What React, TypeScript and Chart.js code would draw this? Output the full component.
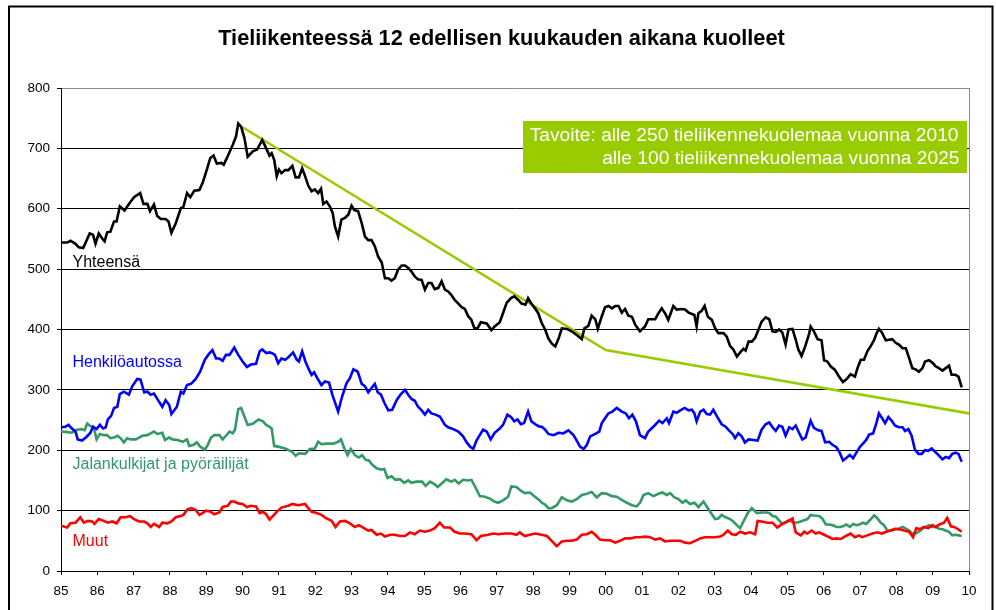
import React, { useEffect, useRef } from "react";
import { Chart, registerables } from "chart.js";

Chart.register(...registerables);

const FONT = "'Liberation Sans', Arial, Helvetica, sans-serif";

const chartTitle = "Tieliikenteessä 12 edellisen kuukauden aikana kuolleet";
const targetLines = [
  "Tavoite: alle 250 tieliikennekuolemaa vuonna 2010",
  "alle 100 tieliikennekuolemaa vuonna 2025",
];
const seriesNames = ["Yhteensä", "Henkilöautossa", "Jalankulkijat ja pyöräilijät", "Muut"];
const seriesColors = ["#000000", "#0000ff", "#339966", "#ff0000"];
const targetColor = "#99cc00";

const xMin = 1985;
const xMax = 2010;
const yMin = 0;
const yMax = 800;
const yStep = 100;

// [year, deaths during previous 12 months]
const yhteensa: [number, number][] = [
  [1985.0, 544], [1985.17, 544], [1985.26, 547], [1985.4, 542], [1985.49, 536], [1985.61, 535], [1985.67, 543],
  [1985.79, 559], [1985.88, 557], [1985.95, 542], [1986.04, 559], [1986.13, 551], [1986.2, 546], [1986.27, 561],
  [1986.36, 562], [1986.46, 579], [1986.53, 579], [1986.62, 604], [1986.75, 597], [1986.87, 608], [1987.01, 619],
  [1987.18, 626], [1987.27, 608], [1987.38, 608], [1987.45, 596], [1987.56, 607], [1987.65, 588], [1987.75, 583],
  [1987.88, 583], [1987.96, 579], [1988.04, 560], [1988.16, 576], [1988.3, 601], [1988.37, 603], [1988.47, 626],
  [1988.56, 619], [1988.67, 630], [1988.81, 631], [1988.9, 643], [1988.99, 660], [1989.11, 684], [1989.2, 688],
  [1989.29, 675], [1989.41, 676], [1989.48, 673], [1989.59, 687], [1989.73, 706], [1989.82, 720], [1989.88, 741],
  [1989.96, 736], [1990.05, 717], [1990.14, 686], [1990.28, 695], [1990.4, 698], [1990.54, 714], [1990.65, 700],
  [1990.74, 688], [1990.8, 692], [1990.87, 681], [1990.94, 654], [1991.0, 665], [1991.07, 659], [1991.17, 664],
  [1991.26, 664], [1991.37, 671], [1991.46, 652], [1991.55, 652], [1991.64, 667], [1991.72, 654], [1991.81, 638],
  [1991.9, 629], [1991.99, 632], [1992.08, 626], [1992.16, 633], [1992.22, 608], [1992.31, 612], [1992.4, 604],
  [1992.48, 593], [1992.54, 571], [1992.63, 554], [1992.72, 582], [1992.82, 585], [1992.91, 590], [1993.0, 605],
  [1993.07, 598], [1993.18, 596], [1993.28, 576], [1993.37, 554], [1993.46, 548], [1993.55, 548], [1993.64, 538],
  [1993.73, 521], [1993.83, 511], [1993.92, 485], [1994.01, 485], [1994.1, 481], [1994.19, 485], [1994.28, 499],
  [1994.38, 506], [1994.47, 506], [1994.56, 502], [1994.65, 496], [1994.74, 488], [1994.83, 483], [1994.93, 482],
  [1995.02, 466], [1995.11, 477], [1995.2, 477], [1995.29, 467], [1995.39, 469], [1995.48, 480], [1995.57, 466],
  [1995.66, 463], [1995.75, 457], [1995.84, 449], [1995.94, 443], [1996.03, 437], [1996.12, 434], [1996.21, 422],
  [1996.3, 416], [1996.38, 402], [1996.47, 402], [1996.56, 412], [1996.72, 410], [1996.85, 399], [1996.94, 405],
  [1997.08, 412], [1997.17, 427], [1997.27, 444], [1997.39, 452], [1997.48, 455], [1997.59, 449], [1997.68, 443],
  [1997.79, 441], [1997.86, 452], [1997.94, 444], [1998.05, 435], [1998.14, 427], [1998.24, 410], [1998.33, 400],
  [1998.42, 385], [1998.51, 377], [1998.61, 372], [1998.7, 385], [1998.79, 402], [1998.93, 401], [1999.06, 397],
  [1999.2, 391], [1999.34, 384], [1999.41, 402], [1999.52, 406], [1999.61, 423], [1999.71, 417], [1999.78, 401],
  [1999.89, 422], [1999.98, 437], [2000.07, 439], [2000.17, 435], [2000.26, 439], [2000.35, 439], [2000.44, 428],
  [2000.53, 434], [2000.62, 423], [2000.72, 421], [2000.81, 408], [2000.94, 397], [2001.08, 405], [2001.17, 417],
  [2001.36, 417], [2001.45, 427], [2001.54, 435], [2001.63, 427], [2001.72, 416], [2001.86, 439], [2001.95, 433],
  [2002.09, 434], [2002.18, 433], [2002.28, 428], [2002.44, 424], [2002.5, 405], [2002.55, 427], [2002.64, 431],
  [2002.72, 439], [2002.81, 421], [2002.92, 416], [2003.01, 402], [2003.1, 394], [2003.24, 394], [2003.33, 388],
  [2003.42, 373], [2003.51, 367], [2003.61, 355], [2003.7, 362], [2003.79, 368], [2003.85, 365], [2003.93, 380],
  [2004.02, 380], [2004.11, 386], [2004.2, 399], [2004.29, 413], [2004.4, 420], [2004.5, 417], [2004.59, 397],
  [2004.68, 396], [2004.77, 400], [2004.86, 395], [2004.95, 375], [2005.03, 400], [2005.14, 401], [2005.23, 383],
  [2005.3, 367], [2005.39, 356], [2005.49, 372], [2005.6, 393], [2005.64, 405], [2005.73, 397], [2005.83, 384],
  [2005.94, 382], [2006.01, 349], [2006.1, 347], [2006.19, 339], [2006.31, 333], [2006.42, 322], [2006.53, 313],
  [2006.65, 319], [2006.74, 326], [2006.86, 322], [2006.93, 336], [2007.02, 350], [2007.11, 350], [2007.2, 364],
  [2007.29, 372], [2007.39, 383], [2007.45, 393], [2007.52, 401], [2007.6, 395], [2007.71, 382], [2007.8, 383],
  [2007.89, 384], [2007.98, 378], [2008.07, 375], [2008.17, 369], [2008.26, 369], [2008.35, 353], [2008.44, 336],
  [2008.53, 334], [2008.62, 330], [2008.72, 336], [2008.79, 347], [2008.9, 349], [2009.01, 344], [2009.08, 339],
  [2009.17, 336], [2009.27, 332], [2009.36, 336], [2009.45, 340], [2009.52, 325], [2009.63, 325], [2009.71, 322],
  [2009.8, 304],
];

const henkiloautossa: [number, number][] = [
  [1985.0, 238], [1985.12, 239], [1985.21, 242], [1985.3, 236], [1985.4, 231], [1985.46, 218], [1985.58, 216],
  [1985.7, 222], [1985.81, 229], [1985.88, 239], [1985.98, 235], [1986.07, 242], [1986.16, 236], [1986.23, 238],
  [1986.29, 251], [1986.38, 257], [1986.46, 270], [1986.55, 272], [1986.62, 293], [1986.73, 297], [1986.87, 292],
  [1986.96, 306], [1987.1, 318], [1987.19, 317], [1987.29, 296], [1987.38, 297], [1987.47, 292], [1987.56, 294],
  [1987.65, 285], [1987.79, 272], [1987.88, 283], [1987.98, 275], [1988.04, 260], [1988.19, 272], [1988.3, 297],
  [1988.37, 294], [1988.47, 308], [1988.58, 310], [1988.71, 318], [1988.83, 330], [1988.96, 350], [1989.08, 360],
  [1989.17, 366], [1989.27, 352], [1989.36, 352], [1989.45, 348], [1989.54, 358], [1989.64, 358], [1989.77, 370],
  [1989.88, 358], [1990.0, 347], [1990.12, 338], [1990.23, 342], [1990.37, 343], [1990.47, 364], [1990.54, 367],
  [1990.65, 361], [1990.74, 362], [1990.8, 361], [1990.89, 358], [1990.98, 344], [1991.07, 352], [1991.17, 350],
  [1991.26, 354], [1991.39, 362], [1991.49, 350], [1991.55, 347], [1991.64, 364], [1991.73, 347], [1991.83, 333],
  [1991.9, 325], [1991.97, 329], [1992.06, 319], [1992.17, 308], [1992.27, 314], [1992.38, 312], [1992.47, 292],
  [1992.63, 264], [1992.74, 289], [1992.86, 311], [1992.95, 319], [1993.05, 334], [1993.17, 330], [1993.28, 310],
  [1993.37, 306], [1993.46, 296], [1993.55, 303], [1993.64, 310], [1993.72, 296], [1993.81, 292], [1993.9, 279],
  [1994.01, 266], [1994.12, 267], [1994.24, 283], [1994.36, 293], [1994.47, 300], [1994.56, 292], [1994.65, 285],
  [1994.74, 282], [1994.83, 272], [1994.93, 266], [1995.02, 259], [1995.11, 267], [1995.2, 261], [1995.31, 259],
  [1995.43, 256], [1995.57, 242], [1995.66, 238], [1995.8, 235], [1995.94, 231], [1996.07, 223], [1996.17, 213],
  [1996.26, 206], [1996.35, 202], [1996.44, 216], [1996.53, 225], [1996.62, 234], [1996.72, 231], [1996.83, 218],
  [1996.94, 229], [1997.08, 236], [1997.17, 242], [1997.29, 259], [1997.39, 255], [1997.48, 248], [1997.57, 251],
  [1997.66, 243], [1997.75, 245], [1997.86, 264], [1997.95, 248], [1998.06, 243], [1998.18, 239], [1998.24, 239],
  [1998.33, 234], [1998.42, 227], [1998.56, 225], [1998.7, 229], [1998.83, 228], [1998.97, 233], [1999.11, 225],
  [1999.2, 216], [1999.29, 206], [1999.39, 202], [1999.48, 209], [1999.57, 223], [1999.71, 227], [1999.82, 231],
  [1999.89, 245], [1999.98, 253], [2000.07, 261], [2000.18, 264], [2000.3, 270], [2000.44, 264], [2000.55, 261],
  [2000.64, 253], [2000.73, 259], [2000.83, 248], [2000.94, 225], [2001.08, 220], [2001.17, 231], [2001.31, 239],
  [2001.47, 249], [2001.56, 245], [2001.68, 253], [2001.74, 245], [2001.86, 264], [2001.95, 262], [2002.05, 266],
  [2002.17, 270], [2002.28, 266], [2002.37, 267], [2002.44, 261], [2002.5, 248], [2002.6, 264], [2002.69, 267],
  [2002.78, 260], [2002.87, 259], [2002.96, 267], [2003.06, 256], [2003.19, 243], [2003.3, 239], [2003.39, 233],
  [2003.49, 227], [2003.56, 220], [2003.65, 228], [2003.74, 223], [2003.83, 213], [2003.93, 218], [2004.06, 217],
  [2004.18, 216], [2004.29, 234], [2004.4, 243], [2004.5, 246], [2004.59, 238], [2004.68, 232], [2004.77, 241],
  [2004.86, 239], [2004.95, 224], [2005.05, 238], [2005.14, 235], [2005.23, 241], [2005.32, 229], [2005.41, 218],
  [2005.5, 221], [2005.6, 241], [2005.64, 249], [2005.73, 237], [2005.85, 233], [2005.94, 232], [2006.04, 213],
  [2006.15, 214], [2006.24, 209], [2006.35, 205], [2006.44, 196], [2006.53, 183], [2006.62, 187], [2006.72, 192],
  [2006.81, 187], [2006.9, 196], [2006.99, 205], [2007.08, 211], [2007.17, 217], [2007.25, 226], [2007.36, 228],
  [2007.45, 245], [2007.52, 261], [2007.61, 253], [2007.69, 245], [2007.78, 255], [2007.87, 249], [2007.96, 241],
  [2008.07, 238], [2008.17, 238], [2008.24, 232], [2008.33, 235], [2008.42, 224], [2008.51, 201], [2008.61, 194],
  [2008.7, 194], [2008.79, 200], [2008.88, 199], [2008.97, 203], [2009.06, 198], [2009.16, 192], [2009.27, 185],
  [2009.36, 189], [2009.45, 187], [2009.54, 194], [2009.63, 196], [2009.71, 194], [2009.8, 181],
];

const jalankulkijat: [number, number][] = [
  [1985.0, 231], [1985.17, 230], [1985.3, 229], [1985.44, 234], [1985.58, 235], [1985.65, 233], [1985.72, 244],
  [1985.81, 240], [1985.9, 238], [1985.98, 218], [1986.07, 227], [1986.18, 225], [1986.27, 225], [1986.36, 220],
  [1986.46, 221], [1986.55, 224], [1986.64, 220], [1986.73, 213], [1986.82, 220], [1986.92, 218], [1987.06, 218],
  [1987.15, 221], [1987.24, 224], [1987.38, 225], [1987.47, 228], [1987.56, 231], [1987.65, 227], [1987.79, 229],
  [1987.86, 217], [1987.98, 221], [1988.07, 218], [1988.21, 217], [1988.35, 214], [1988.47, 218], [1988.53, 207],
  [1988.65, 209], [1988.74, 213], [1988.83, 206], [1988.96, 201], [1989.04, 209], [1989.13, 221], [1989.22, 225],
  [1989.36, 225], [1989.45, 218], [1989.54, 224], [1989.64, 231], [1989.73, 228], [1989.79, 234], [1989.88, 268],
  [1989.96, 270], [1990.05, 256], [1990.14, 242], [1990.28, 244], [1990.44, 251], [1990.56, 248], [1990.65, 242],
  [1990.74, 239], [1990.8, 236], [1990.87, 207], [1990.98, 206], [1991.17, 203], [1991.35, 198], [1991.46, 191],
  [1991.55, 195], [1991.72, 194], [1991.85, 202], [1991.99, 203], [1992.08, 214], [1992.17, 210], [1992.31, 211],
  [1992.5, 211], [1992.63, 214], [1992.71, 218], [1992.8, 203], [1992.89, 192], [1992.98, 202], [1993.09, 192],
  [1993.2, 188], [1993.29, 192], [1993.39, 184], [1993.48, 183], [1993.57, 176], [1993.69, 170], [1993.81, 168],
  [1993.9, 169], [1993.99, 154], [1994.1, 157], [1994.21, 151], [1994.33, 152], [1994.45, 146], [1994.56, 150],
  [1994.65, 146], [1994.79, 148], [1994.94, 148], [1995.04, 141], [1995.16, 148], [1995.28, 144], [1995.37, 139],
  [1995.48, 145], [1995.61, 152], [1995.75, 148], [1995.84, 151], [1995.95, 145], [1996.07, 151], [1996.21, 150],
  [1996.3, 151], [1996.39, 141], [1996.53, 124], [1996.67, 123], [1996.81, 120], [1996.93, 115], [1997.04, 113],
  [1997.17, 117], [1997.31, 123], [1997.4, 140], [1997.54, 139], [1997.66, 133], [1997.77, 129], [1997.91, 130],
  [1998.05, 123], [1998.18, 117], [1998.24, 113], [1998.33, 110], [1998.42, 104], [1998.51, 104], [1998.65, 109],
  [1998.79, 122], [1998.93, 117], [1999.06, 115], [1999.2, 119], [1999.34, 126], [1999.48, 128], [1999.61, 131],
  [1999.75, 122], [1999.89, 129], [2000.03, 128], [2000.17, 124], [2000.3, 123], [2000.44, 118], [2000.58, 113],
  [2000.72, 109], [2000.85, 107], [2000.94, 113], [2001.04, 126], [2001.17, 129], [2001.31, 124], [2001.45, 128],
  [2001.56, 130], [2001.68, 126], [2001.77, 129], [2001.89, 122], [2002.0, 119], [2002.11, 113], [2002.2, 117],
  [2002.32, 111], [2002.44, 113], [2002.55, 106], [2002.69, 115], [2002.81, 104], [2002.92, 94], [2003.01, 86],
  [2003.1, 87], [2003.19, 93], [2003.3, 89], [2003.42, 86], [2003.51, 82], [2003.61, 76], [2003.7, 71],
  [2003.79, 82], [2003.91, 96], [2004.02, 104], [2004.16, 96], [2004.29, 97], [2004.43, 97], [2004.5, 96],
  [2004.59, 91], [2004.68, 90], [2004.77, 84], [2004.86, 78], [2004.95, 81], [2005.05, 84], [2005.14, 81],
  [2005.23, 80], [2005.32, 81], [2005.46, 84], [2005.55, 86], [2005.64, 93], [2005.73, 92], [2005.87, 91],
  [2005.96, 87], [2006.06, 77], [2006.15, 77], [2006.24, 76], [2006.35, 73], [2006.44, 73], [2006.53, 74],
  [2006.62, 77], [2006.72, 73], [2006.81, 78], [2006.9, 76], [2006.99, 77], [2007.08, 80], [2007.17, 78],
  [2007.27, 84], [2007.39, 92], [2007.48, 87], [2007.57, 80], [2007.66, 76], [2007.75, 67], [2007.89, 67],
  [2007.98, 69], [2008.07, 70], [2008.17, 73], [2008.26, 70], [2008.35, 67], [2008.44, 62], [2008.53, 62],
  [2008.62, 65], [2008.72, 70], [2008.81, 73], [2008.9, 76], [2008.99, 73], [2009.08, 73], [2009.17, 70],
  [2009.27, 69], [2009.36, 67], [2009.45, 65], [2009.54, 59], [2009.63, 60], [2009.72, 59], [2009.8, 58],
];

const muut: [number, number][] = [
  [1985.0, 75], [1985.17, 72], [1985.26, 79], [1985.4, 80], [1985.53, 89], [1985.63, 80], [1985.74, 83],
  [1985.86, 82], [1985.92, 78], [1986.04, 86], [1986.18, 83], [1986.29, 80], [1986.41, 82], [1986.53, 79],
  [1986.64, 89], [1986.78, 89], [1986.9, 91], [1987.01, 86], [1987.15, 82], [1987.29, 82], [1987.38, 79],
  [1987.47, 73], [1987.56, 78], [1987.7, 73], [1987.79, 80], [1987.93, 79], [1988.04, 82], [1988.16, 89],
  [1988.3, 91], [1988.37, 93], [1988.48, 102], [1988.59, 104], [1988.71, 101], [1988.81, 93], [1988.9, 96],
  [1988.99, 100], [1989.13, 98], [1989.22, 94], [1989.36, 97], [1989.45, 106], [1989.59, 108], [1989.68, 115],
  [1989.77, 115], [1989.88, 112], [1990.0, 111], [1990.12, 106], [1990.23, 108], [1990.37, 107], [1990.47, 96],
  [1990.56, 98], [1990.65, 94], [1990.74, 85], [1990.8, 89], [1990.94, 98], [1991.07, 105], [1991.26, 108],
  [1991.37, 111], [1991.53, 109], [1991.72, 111], [1991.81, 104], [1991.9, 98], [1992.04, 96], [1992.17, 93],
  [1992.31, 87], [1992.45, 83], [1992.56, 73], [1992.68, 82], [1992.82, 83], [1992.95, 79], [1993.09, 73],
  [1993.2, 76], [1993.32, 72], [1993.46, 67], [1993.55, 68], [1993.69, 60], [1993.81, 62], [1993.92, 57],
  [1994.06, 60], [1994.19, 60], [1994.33, 58], [1994.47, 58], [1994.61, 64], [1994.74, 61], [1994.88, 67],
  [1995.02, 65], [1995.16, 67], [1995.29, 71], [1995.43, 80], [1995.55, 72], [1995.71, 72], [1995.84, 65],
  [1995.98, 62], [1996.12, 62], [1996.3, 61], [1996.44, 51], [1996.56, 58], [1996.76, 60], [1996.9, 62],
  [1997.04, 61], [1997.22, 62], [1997.4, 62], [1997.54, 60], [1997.63, 64], [1997.77, 58], [1997.91, 60],
  [1998.05, 62], [1998.23, 60], [1998.38, 58], [1998.51, 50], [1998.65, 41], [1998.79, 49], [1998.93, 50],
  [1999.06, 50], [1999.2, 52], [1999.34, 60], [1999.48, 61], [1999.61, 65], [1999.71, 60], [1999.84, 52],
  [1999.98, 51], [2000.12, 51], [2000.26, 47], [2000.39, 50], [2000.53, 54], [2000.67, 54], [2000.81, 56],
  [2000.94, 56], [2001.08, 57], [2001.22, 56], [2001.36, 52], [2001.5, 54], [2001.63, 49], [2001.77, 50],
  [2001.91, 50], [2002.05, 50], [2002.18, 47], [2002.32, 46], [2002.46, 50], [2002.6, 54], [2002.73, 56],
  [2002.87, 56], [2003.01, 56], [2003.15, 57], [2003.24, 60], [2003.36, 67], [2003.47, 61], [2003.58, 60],
  [2003.7, 65], [2003.83, 62], [2003.97, 64], [2004.11, 61], [2004.18, 83], [2004.29, 82], [2004.45, 80],
  [2004.59, 80], [2004.72, 72], [2004.86, 78], [2005.0, 82], [2005.14, 87], [2005.23, 64], [2005.37, 59],
  [2005.46, 65], [2005.55, 62], [2005.67, 67], [2005.78, 62], [2005.87, 64], [2006.01, 60], [2006.15, 56],
  [2006.24, 53], [2006.35, 54], [2006.47, 53], [2006.61, 58], [2006.74, 62], [2006.86, 56], [2006.97, 59],
  [2007.06, 56], [2007.2, 59], [2007.34, 62], [2007.48, 64], [2007.6, 62], [2007.72, 65], [2007.84, 67],
  [2007.96, 70], [2008.09, 69], [2008.21, 67], [2008.35, 65], [2008.46, 56], [2008.55, 71], [2008.64, 69],
  [2008.76, 73], [2008.88, 71], [2008.99, 76], [2009.08, 73], [2009.19, 77], [2009.31, 80], [2009.4, 88],
  [2009.5, 74], [2009.59, 73], [2009.68, 70], [2009.8, 65],
];

const tavoite: [number, number][] = [
  [1990.0, 735], [2000.0, 366], [2010.0, 261],
];

const toPoints = (arr: [number, number][]) => arr.map(([x, y]) => ({ x, y }));

const decorPlugin = {
  id: "decor",
  beforeDraw(chart: any) {
    const { ctx, width, height } = chart;
    ctx.save();
    ctx.fillStyle = "#ffffff";
    ctx.fillRect(0, 0, width, height);
    ctx.restore();
  },
  beforeDatasetsDraw(chart: any) {
    const { ctx, chartArea } = chart;
    ctx.save();
    ctx.strokeStyle = "#8c8c8c";
    ctx.lineWidth = 1;
    ctx.beginPath();
    ctx.moveTo(chartArea.right + 0.5, chartArea.top);
    ctx.lineTo(chartArea.right + 0.5, chartArea.bottom);
    ctx.stroke();
    ctx.restore();
  },
  afterDatasetsDraw(chart: any) {
    const { ctx } = chart;
    ctx.save();
    // target box
    ctx.fillStyle = targetColor;
    ctx.fillRect(523, 121, 444, 52);
    ctx.fillStyle = "#ffffff";
    ctx.font = `19.2px ${FONT}`;
    ctx.textAlign = "right";
    ctx.textBaseline = "alphabetic";
    ctx.fillText(targetLines[0], 958.5, 141);
    ctx.fillText(targetLines[1], 959.5, 164);

    // series labels
    ctx.textAlign = "left";
    ctx.font = `16px ${FONT}`;
    const labelPos = [267, 366.5, 469, 546];
    seriesNames.forEach((name, i) => {
      ctx.fillStyle = seriesColors[i];
      ctx.fillText(name, 72.5, labelPos[i]);
    });

    // title
    ctx.fillStyle = "#000000";
    ctx.font = `bold 21.75px ${FONT}`;
    ctx.textAlign = "center";
    ctx.fillText(chartTitle, 501.5, 45);

    // outer frame
    ctx.strokeStyle = "#000000";
    ctx.lineWidth = 2;
    ctx.strokeRect(9, 6.5, 983.5, 700);
    ctx.restore();
  },
};

export default function App() {
  const ref = useRef<HTMLCanvasElement | null>(null);

  useEffect(() => {
    if (!ref.current) return;
    const lineDs = (label: string, data: [number, number][], color: string, width: number) => ({
      label,
      data: toPoints(data),
      borderColor: color,
      backgroundColor: color,
      borderWidth: width,
      pointRadius: 0,
      tension: 0,
      fill: false,
    });
    const chart = new Chart(ref.current, {
      type: "line",
      data: {
        datasets: [
          lineDs(seriesNames[0], yhteensa, seriesColors[0], 2.6),
          lineDs(seriesNames[1], henkiloautossa, seriesColors[1], 2.6),
          lineDs(seriesNames[3], muut, seriesColors[3], 2.6),
          lineDs(seriesNames[2], jalankulkijat, seriesColors[2], 2.6),
          lineDs("Tavoite", tavoite, targetColor, 2.6),
        ],
      },
      options: {
        animation: false,
        responsive: false,
        events: [],
        layout: { padding: { left: 0, right: 27, top: 88, bottom: 0 } },
        plugins: {
          legend: { display: false },
          title: { display: false },
          tooltip: { enabled: false },
        },
        scales: {
          x: {
            type: "linear",
            min: xMin,
            max: xMax,
            afterFit: (scale: any) => {
              scale.height = 39;
            },
            ticks: {
              stepSize: 1,
              autoSkip: false,
              maxRotation: 0,
              color: "#000000",
              padding: 8.5,
              font: { family: FONT, size: 13.5 },
              callback: (v: any) => String(Number(v) % 100).padStart(2, "0"),
            },
            grid: {
              drawOnChartArea: false,
              drawTicks: true,
              tickLength: 4,
              color: "#000000",
            },
            border: { display: true, color: "#000000", width: 1 },
          },
          y: {
            type: "linear",
            min: yMin,
            max: yMax,
            afterFit: (scale: any) => {
              scale.width = 61;
            },
            ticks: {
              stepSize: yStep,
              color: "#000000",
              padding: 7,
              font: { family: FONT, size: 13.5 },
            },
            grid: {
              drawTicks: true,
              tickLength: 4,
              tickColor: "#000000",
              color: (c: any) => (c.tick && c.tick.value === yMax ? "#8c8c8c" : "#000000"),
              lineWidth: 1,
            },
            border: { display: true, color: "#000000", width: 1 },
          },
        },
      },
      plugins: [decorPlugin],
    });
    return () => chart.destroy();
  }, []);

  return (
    <div style={{ position: "absolute", left: 0, top: 0, width: 996, height: 610, background: "#fff" }}>
      <canvas ref={ref} width={996} height={610} style={{ display: "block" }} />
    </div>
  );
}
